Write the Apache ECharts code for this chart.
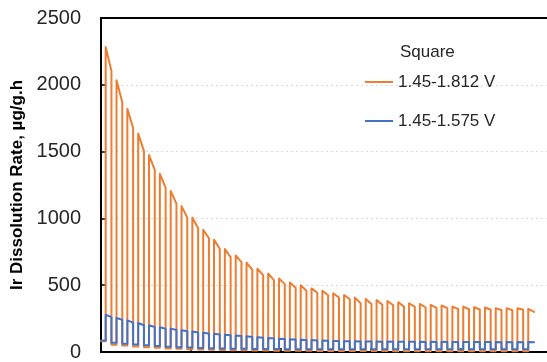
<!DOCTYPE html>
<html>
<head>
<meta charset="utf-8">
<script src="https://cdn.jsdelivr.net/npm/echarts@6/dist/echarts.min.js"></script>
<style>
  html, body { margin: 0; padding: 0; background: #fff; }
  #chart { width: 547px; height: 362px; }
</style>
</head>
<body>
<div id="chart"></div>
<script>
// Square-wave potential cycling: Ir dissolution rate per cycle.
// Each cycle: value at the start of the upper-potential hold, value at its end,
// then the level during the following lower-potential hold.

const seriesNames = ['1.45-1.812 V', '1.45-1.575 V'];
const legendTitle = 'Square';
const yTicks = [0, 500, 1000, 1500, 2000, 2500];
const xTicks = [0, 10, 20, 30, 40];

// Cycle schedule on the time axis (h); the visible window ends at xMax
const xMax = 49.56;
const firstRise = 0.52;
const cyclePeriod = 1.204;
const highHold = 0.64;

// 1.45-1.812 V
const orangeStartLow = 80;
const orangePeak = [2283, 2034, 1820, 1635, 1474, 1334, 1205, 1092, 1006, 915,
                    841, 771, 723, 668, 623, 587, 550, 520, 500, 476,
                    459, 439, 427, 407, 397, 390, 382, 372, 365, 360,
                    353, 348, 340, 340, 335, 333, 328, 328, 328, 323];
const orangeEnd  = [2103, 1869, 1677, 1504, 1363, 1230, 1110, 1006, 927, 851,
                    771, 710, 673, 616, 575, 538, 508, 481, 459, 444,
                    425, 408, 395, 365, 360, 353, 350, 340, 338, 333,
                    331, 328, 322, 320, 318, 316, 313, 313, 316, 300];
const orangeLow  = [55, 48, 42, 36, 31, 27, 24, 21, 19, 17,
                    15, 14, 13, 12, 11, 10, 10, 9, 9, 8,
                    8, 8, 7, 7, 7, 7, 6, 6, 6, 6,
                    6, 6, 6, 6, 6, 6, 6, 6, 6];

// 1.45-1.575 V
const blueStartLow = 86;
const bluePeak = [279, 254, 237, 217, 200, 185, 175, 163, 153, 144,
                  136, 129, 123, 117, 111, 105, 100, 96, 92, 89,
                  86, 83, 81, 80, 79, 78, 78, 77, 77, 76,
                  76, 76, 75, 75, 75, 75, 74, 74, 74, 74];
const blueEnd  = [261, 242, 220, 200, 187, 174, 164, 155, 146, 138,
                  131, 125, 119, 113, 107, 102, 98, 94, 90, 87,
                  84, 82, 80, 79, 78, 77, 77, 76, 76, 75,
                  75, 75, 74, 74, 74, 74, 73, 73, 73, 73];
const blueLow  = [69, 61, 56, 50, 45, 40, 36, 33, 30, 28,
                  26, 25, 24, 23, 22, 22, 21, 21, 21, 20,
                  20, 20, 20, 20, 20, 20, 20, 20, 20, 20,
                  20, 20, 20, 20, 20, 20, 20, 20, 20];

function buildWave(startLow, peaks, ends, lows) {
  const pts = [[0, startLow]];
  peaks.forEach((p, i) => {
    const tOn = firstRise + i * cyclePeriod;
    const tOff = tOn + highHold;
    const prevLow = i === 0 ? startLow : lows[i - 1];
    pts.push([tOn, prevLow], [tOn, p], [tOff, ends[i]]);
    if (i < lows.length) pts.push([tOff, lows[i]]);
  });
  return pts;
}

const FONT = '"Liberation Sans", Arial, sans-serif';
const TEXT = '#262626';
const chart = echarts.init(document.getElementById('chart'), null, { renderer: 'canvas' });

chart.setOption({
  animation: false,
  backgroundColor: '#ffffff',
  title: {
    text: legendTitle,
    left: 400,
    top: 44,
    padding: 0,
    textStyle: { fontFamily: FONT, fontSize: 17, fontWeight: 'normal', color: TEXT }
  },
  legend: {
    orient: 'vertical',
    left: 365,
    top: 72,
    padding: 0,
    itemWidth: 28,
    itemHeight: 2,
    itemGap: 19,
    icon: 'rect',
    data: seriesNames,
    textStyle: { fontFamily: FONT, fontSize: 17, color: TEXT, lineHeight: 20 }
  },
  grid: { left: 101, top: 18, right: 0, bottom: 6, containLabel: false },
  xAxis: [
    {
      type: 'value', position: 'bottom', min: 0, max: xMax, interval: 10,
      axisLine: { show: true, onZero: false, lineStyle: { color: '#000', width: 2 } },
      axisTick: { show: true, inside: true, length: 4, customValues: xTicks,
                  lineStyle: { color: '#000', width: 1.5 } },
      axisLabel: { show: false },
      splitLine: { show: false }
    },
    {
      type: 'value', position: 'top', min: 0, max: xMax, interval: 10,
      axisLine: { show: true, onZero: false, lineStyle: { color: '#000', width: 2 } },
      axisTick: { show: false },
      axisLabel: { show: false },
      splitLine: { show: false }
    }
  ],
  yAxis: {
    type: 'value',
    min: yTicks[0],
    max: yTicks[yTicks.length - 1],
    interval: yTicks[1] - yTicks[0],
    name: 'Ir Dissolution Rate, µg/g.h',
    nameLocation: 'middle',
    nameGap: 69,
    nameTextStyle: { fontFamily: FONT, fontSize: 17, fontWeight: 'bold', color: '#000' },
    axisLine: { show: true, onZero: false, lineStyle: { color: '#000', width: 2 } },
    axisTick: { show: true, inside: true, length: 5, lineStyle: { color: '#000', width: 1.5 } },
    axisLabel: { margin: 20, fontFamily: FONT, fontSize: 20, color: TEXT,
                 formatter: (v) => String(v) },
    splitLine: { show: true, lineStyle: { color: '#d9d9d9', type: [2, 3], width: 1 } }
  },
  series: [
    {
      name: seriesNames[0],
      type: 'line',
      data: buildWave(orangeStartLow, orangePeak, orangeEnd, orangeLow),
      showSymbol: false,
      symbol: 'none',
      color: '#ED7D31',
      lineStyle: { color: '#ED7D31', width: 2, join: 'round', cap: 'round' }
    },
    {
      name: seriesNames[1],
      type: 'line',
      data: buildWave(blueStartLow, bluePeak, blueEnd, blueLow),
      showSymbol: false,
      symbol: 'none',
      color: '#4472C4',
      lineStyle: { color: '#4472C4', width: 2, join: 'round', cap: 'round' }
    }
  ]
});
</script>
</body>
</html>
